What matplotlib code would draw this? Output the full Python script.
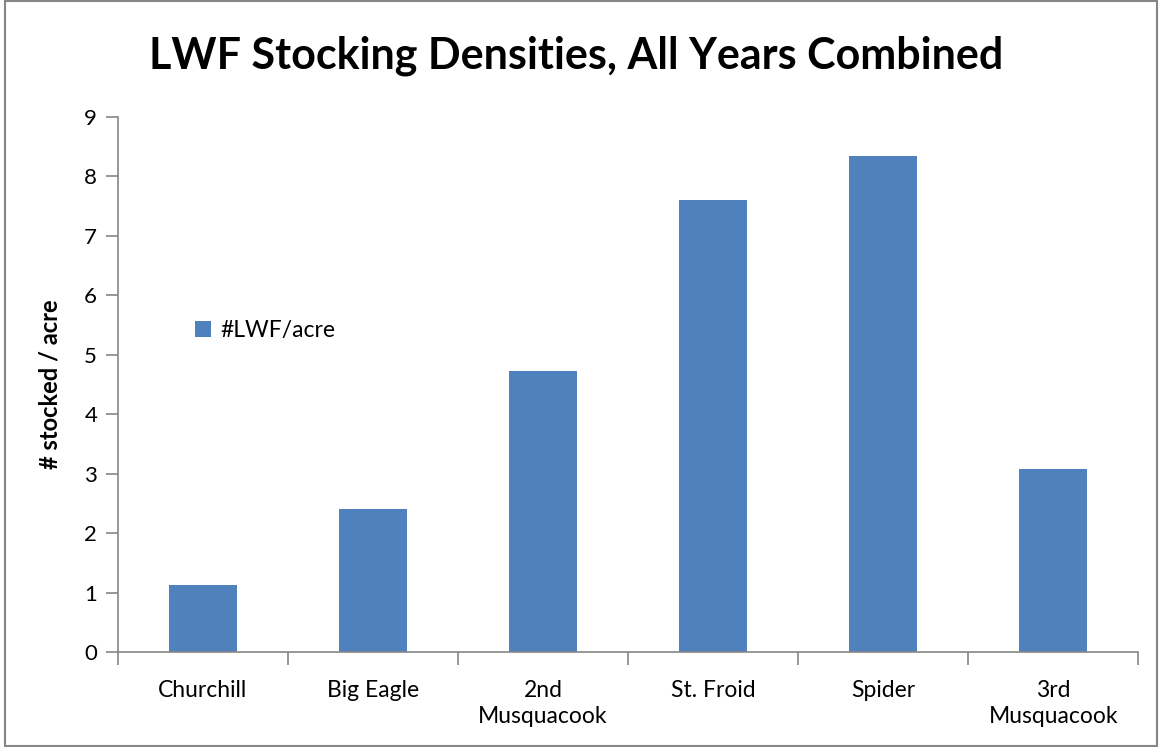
import numpy as np
import matplotlib.pyplot as plt
from matplotlib.patches import Rectangle

lakes = ["Churchill", "Big Eagle", "2nd\nMusquacook", "St. Froid", "Spider", "3rd\nMusquacook"]
lwf_per_acre = [1.13, 2.40, 4.72, 7.60, 8.35, 3.07]
yticks = list(range(0, 10))

BLUE = "#4F81BD"
GRID = "#868686"

plt.rcParams["font.family"] = ["Lato", "DejaVu Sans"]

fig = plt.figure(figsize=(11.59, 7.47), dpi=100)
ax = fig.add_axes([0.1018, 0.1272, 0.8802, 0.7162])

x = np.arange(len(lakes))
ax.bar(x, lwf_per_acre, width=0.4, color=BLUE, label="#LWF/acre", zorder=2)

ax.set_xlim(-0.5, len(lakes) - 0.5)
ax.set_ylim(0, 9)
ax.set_yticks(yticks)
ax.set_yticklabels([str(t) for t in yticks], fontsize=16)
# category labels centred, tick marks on the boundaries
ax.set_xticks(x)
ax.set_xticklabels(lakes, fontsize=16.5, linespacing=1.3)
ax.tick_params(axis="x", length=0, pad=20)
ax.set_xticks(np.arange(-0.5, len(lakes)), minor=True)
ax.tick_params(axis="x", which="minor", length=9, color=GRID, width=1.2)
ax.tick_params(axis="y", length=9, color=GRID, width=1.2, pad=6)

for s in ["top", "right"]:
    ax.spines[s].set_visible(False)
for s in ["left", "bottom"]:
    ax.spines[s].set_color(GRID)
    ax.spines[s].set_linewidth(1.2)

ax.set_ylabel("# stocked / acre", fontsize=17, fontweight="bold", labelpad=16)

ax.legend(loc="center left", bbox_to_anchor=(0.055, 0.600), frameon=False,
          fontsize=16.5, handlelength=0.7, handleheight=0.7, handletextpad=0.4)

fig.text(0.497, 0.925, "LWF Stocking Densities, All Years Combined",
         ha="center", va="center", fontsize=31, fontweight="bold")

# outer chart frame
fig.patches.append(Rectangle((0.004, 0.002), 0.994, 0.996, transform=fig.transFigure,
                             fill=False, edgecolor=GRID, linewidth=1.5))

fig.savefig("out.png", dpi=100)
